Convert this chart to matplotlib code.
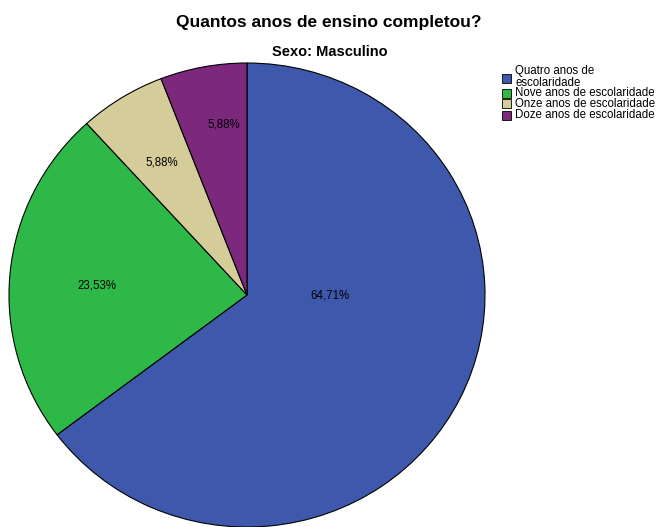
import matplotlib
matplotlib.use("Agg")
import matplotlib.pyplot as plt
from matplotlib.patches import Rectangle

plt.rcParams["font.family"] = ["Liberation Sans", "DejaVu Sans"]

TITLE = "Quantos anos de ensino completou?"
SUBTITLE = "Sexo: Masculino"

categories = [
    "Quatro anos de\nescolaridade",
    "Nove anos de escolaridade",
    "Onze anos de escolaridade",
    "Doze anos de escolaridade",
]
percentages = [64.71, 23.53, 5.88, 5.88]
colors = ["#3E58AC", "#2EB848", "#D4CC99", "#7B287D"]

# label positions inside the slices (pie radius = 1)
label_pos = [(0.349, -0.004), (-0.63, 0.039), (-0.357, 0.573), (-0.097, 0.737)]

# legend rows (text centre, swatch centre), pixels from the top of the figure
legend_text_y = [77, 93, 104, 115]
legend_box_y = [78, 93, 104, 115]


def main():
    W, H = 661, 527
    fig = plt.figure(figsize=(W / 100, H / 100), dpi=100)
    ax = fig.add_axes([9 / W, 0 / H, 476 / W, 464 / H])

    ax.pie(percentages, colors=colors, startangle=90, counterclock=False,
           wedgeprops=dict(edgecolor="black", linewidth=0.8))
    ax.set_aspect("auto")
    ax.set_xlim(-1, 1)
    ax.set_ylim(-1, 1)

    for (x, y), p in zip(label_pos, percentages):
        ax.text(x, y, f"{p:.2f}%".replace(".", ","), ha="center", va="center", fontsize=8.3)

    fig.text(329 / W, 1 - 22 / H, TITLE, ha="center", va="center", fontsize=12.5, fontweight="bold")
    fig.text(330 / W, 1 - 52 / H, SUBTITLE, ha="center", va="center", fontsize=10.5, fontweight="bold")

    # legend drawn by hand so the rows sit like the original
    box = 9
    for ty, by, c, lab in zip(legend_text_y, legend_box_y, colors, categories):
        fig.patches.append(Rectangle((502 / W, 1 - (by + box / 2) / H), box / W, box / H,
                                     transform=fig.transFigure, facecolor=c,
                                     edgecolor="black", linewidth=0.6))
        fig.text(515 / W, 1 - ty / H, lab, ha="left", va="center", fontsize=8.3,
                 linespacing=0.95)

    fig.savefig("out.png", dpi=100)


if __name__ == "__main__":
    main()
